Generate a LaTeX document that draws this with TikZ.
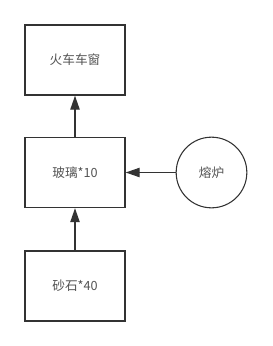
\documentclass[tikz,border=0pt]{standalone}
\usepackage{fontspec}
\newfontfamily\cjk{Noto Sans CJK SC}
\usetikzlibrary{arrows.meta}
\definecolor{ink}{HTML}{333333}
\begin{document}
\begin{tikzpicture}[
    x=0.75pt, y=-0.75pt,
    box/.style={draw=ink, line width=1pt, minimum width=75pt, minimum height=52.5pt, inner sep=0pt},
    oven/.style={circle, draw=ink, line width=0.8pt, minimum size=53pt, inner sep=0pt},
    lab/.style={font=\cjk\fontsize{9.5}{11}\selectfont, text=ink!85},
    feed/.style={draw=ink, line width=1pt, -{Triangle[length=10.5pt, width=7pt]}}]
  \useasboundingbox (0,0) rectangle (272,346);
  % the three stages and the furnace
  \node[box, lab]  (window) at (75,60)    {火车车窗};
  \node[box, lab]  (glass)  at (75,172.5) {玻璃*10};
  \node[box, lab]  (sand)   at (75,286)   {砂石*40};
  \node[oven, lab] (oven)   at (211.5,172.5) {熔炉};
  % what goes into what
  \draw[feed] (glass) -- (window);
  \draw[feed] (sand) -- (glass);
  \draw[feed] (oven) -- (glass);
\end{tikzpicture}
\end{document}
